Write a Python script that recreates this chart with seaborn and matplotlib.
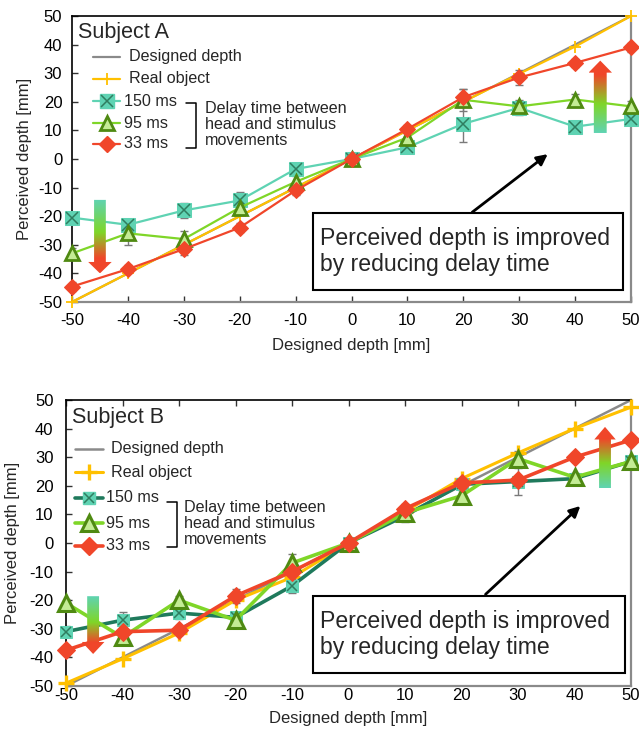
import numpy as np
import pandas as pd
import seaborn as sns
import matplotlib
matplotlib.use("Agg")
import matplotlib.pyplot as plt
from matplotlib.lines import Line2D
from matplotlib.path import Path
from matplotlib.patches import PathPatch, Rectangle
from matplotlib.colors import LinearSegmentedColormap

# ---------------- data ----------------
depth = [-50, -40, -30, -20, -10, 0, 10, 20, 30, 40, 50]
designed = [-50, -40, -30, -20, -10, 0, 10, 20, 30, 40, 50]

A_real = [-50, -40, -30, -20, -10, 0, 10, 20, 29.8, 39.3, 50]
A_150 = [-20.5, -23, -18, -14.5, -3.5, 0, 4.1, 12.3, 17.9, 11.3, 14]
A_150_err = [1.5, 1.5, 2.5, 3, 1.5, 0.5, 1.5, 6.2, 2.6, 1.5, 2]
A_95 = [-33, -26, -28, -17, -8, 0, 7.5, 20.7, 18.4, 20.8, 18.4]
A_95_err = [2, 4, 3, 2, 2, 0.5, 2, 3.8, 2, 2, 2]
A_33 = [-44.6, -38.5, -31.5, -24, -11, 0, 10.5, 21.6, 28.5, 33.6, 39]
A_33_err = [1.5, 1.5, 2, 1.5, 1.5, 0.5, 1.5, 3, 2.6, 1.5, 1.5]

B_real = [-49, -40.5, -31.5, -20, -12, 0, 11, 22.5, 31.5, 40, 47.5]
B_150 = [-31, -27, -24.5, -26, -15, 0, 9.5, 20.5, 21.5, 22.5, 28.5]
B_150_err = [2, 3, 2, 2, 2.5, 0.5, 2, 2, 4.8, 1.5, 2]
B_95 = [-21, -33, -20, -27, -7, 0, 10.5, 16.5, 29.5, 23, 28.5]
B_95_err = [1.5, 1.5, 1.5, 1.5, 3, 0.5, 1.5, 2, 2.5, 1.5, 1.5]
B_33 = [-37.5, -31, -30.5, -18.5, -10, 0, 12, 21, 22, 30, 36]
B_33_err = [2, 1.5, 1.5, 2.5, 2, 0.5, 1.5, 1.5, 1.5, 1.5, 1.5]

ticks = [-50, -40, -30, -20, -10, 0, 10, 20, 30, 40, 50]
labels_leg = ["Designed depth", "Real object", "150 ms", "95 ms", "33 ms"]
delay_text = "Delay time between\nhead and stimulus\nmovements"
box_text = "Perceived depth is improved\nby reducing delay time"

# ---------------- style ----------------
sns.set_style("white")
plt.rcParams["font.family"] = ["Liberation Sans", "DejaVu Sans"]
plt.rcParams["axes.unicode_minus"] = False

GRAY = "#8a8a8a"
GOLD = "#ffc000"
RED = "#f0462a"
GREEN_L = "#7fd628"
GREEN_D = "#4f8a12"
TEAL_L = "#5fd3b3"
TEAL_D = "#1f7a5c"
XCOL = "#2f7d60"

W, H = 639, 742
fig = plt.figure(figsize=(W / 100, H / 100), dpi=100)


def fx(px):
    return px / W


def fy(py):
    return 1 - py / H


styles = {
    "A": dict(lw=1.6, lw_d=1.6, c150=TEAL_L, ms_s=10, ms_t=10, ms_d=8.5,
              ms_p=8, mew_p=1.3, mew_t=2.0, real_lw=1.6),
    "B": dict(lw=2.6, lw_d=1.8, c150=TEAL_D, ms_s=9, ms_t=11, ms_d=9.5,
              ms_p=12, mew_p=2.4, mew_t=2.2, real_lw=2.2),
}


def grad_arrow(ax, xc, y_tail, y_base, y_tip, sw, hw, up):
    verts = [(xc - sw / 2, y_tail), (xc + sw / 2, y_tail), (xc + sw / 2, y_base),
             (xc + hw / 2, y_base), (xc, y_tip), (xc - hw / 2, y_base),
             (xc - sw / 2, y_base), (xc - sw / 2, y_tail)]
    patch = PathPatch(Path(verts), facecolor="none", edgecolor="none",
                      transform=ax.transData)
    ax.add_patch(patch)
    if up:
        cols = [(0, TEAL_L), (0.4, GREEN_L), (0.8, RED), (1, RED)]
    else:
        cols = [(0, RED), (0.2, RED), (0.55, GREEN_L), (1, TEAL_L)]
    cmap = LinearSegmentedColormap.from_list("g", cols)
    grad = np.linspace(0, 1, 256).reshape(-1, 1)
    lo, hi = min(y_tail, y_tip), max(y_tail, y_tip)
    im = ax.imshow(grad, cmap=cmap, extent=[xc - hw / 2, xc + hw / 2, lo, hi],
                   origin="lower", aspect="auto", zorder=7)
    im.set_clip_path(patch)


def draw(ax, key, real, s150, e150, s95, e95, s33, e33):
    st = styles[key]
    sns.lineplot(x=depth, y=designed, ax=ax, color=GRAY, lw=st["lw_d"], zorder=2,
                 clip_on=False)
    for ys, es in ((s150, e150), (s95, e95), (s33, e33)):
        ax.errorbar(depth, ys, yerr=es, fmt="none", ecolor="#7a7a7a",
                    elinewidth=1, capsize=3, capthick=1, zorder=2.5)
    sns.lineplot(x=depth, y=real, ax=ax, color=GOLD, lw=st["real_lw"], marker="+",
                 markersize=st["ms_p"], markeredgewidth=st["mew_p"],
                 markeredgecolor=GOLD, zorder=3, clip_on=False)
    sns.lineplot(x=depth, y=s150, ax=ax, color=st["c150"], lw=st["lw"], marker="s",
                 markersize=st["ms_s"], markerfacecolor=TEAL_L,
                 markeredgecolor=TEAL_L, zorder=4, clip_on=False)
    ax.plot(depth, s150, ls="none", marker="x", ms=st["ms_s"] * 0.85, mew=1.1,
            color=XCOL, zorder=4.1, clip_on=False)
    sns.lineplot(x=depth, y=s95, ax=ax, color=GREEN_L, lw=st["lw"], marker="^",
                 markersize=st["ms_t"], markerfacecolor="#c4ec95",
                 markeredgecolor=GREEN_D, markeredgewidth=st["mew_t"], zorder=5,
                 clip_on=False)
    sns.lineplot(x=depth, y=s33, ax=ax, color=RED, lw=st["lw"], marker="D",
                 markersize=st["ms_d"], markerfacecolor=RED, markeredgecolor=RED,
                 zorder=6, clip_on=False)
    ax.set_xlim(-50, 50)
    ax.set_ylim(-50, 50)
    ax.set_xticks(ticks)
    ax.set_yticks(ticks)
    ax.set_xticklabels([str(t) for t in ticks])
    ax.set_yticklabels([str(t) for t in ticks])
    for s in ("left", "top"):
        ax.spines[s].set_color("black")
        ax.spines[s].set_linewidth(1.2)
    for s in ("right", "bottom"):
        ax.spines[s].set_color(GRAY)
        ax.spines[s].set_linewidth(1.6)
    ax.set_xlabel("Designed depth [mm]", fontsize=12)
    ax.set_ylabel("Perceived depth [mm]", fontsize=12)
    ax.grid(False)


# ---------------- chart A ----------------
axA = fig.add_axes([fx(72), fy(302), (631 - 72) / W, (302 - 16) / H])
draw(axA, "A", A_real, A_150, A_150_err, A_95, A_95_err, A_33, A_33_err)
axA.tick_params(axis="both", direction="in", length=4, width=1, labelsize=12,
                colors="#333333", labelcolor="black")
axA.tick_params(axis="x", bottom=True, top=False, pad=8)
axA.tick_params(axis="y", left=True, right=False, pad=7)
axA.xaxis.set_label_coords(0.5, -0.125)
axA.yaxis.set_label_coords(-0.072, 0.5)
grad_arrow(axA, -45, -14.3, -36, -40, 2.1, 4.2, up=False)
grad_arrow(axA, 44.5, 9.1, 30.2, 34.4, 2.3, 4.2, up=True)
axA.annotate("", xy=(35.5, 2.3), xytext=(21.2, -19.2),
             arrowprops=dict(arrowstyle="-|>", color="black", lw=2,
                             mutation_scale=16), zorder=8)
axA.set_xlim(-50, 50)
axA.set_ylim(-50, 50)

# ---------------- chart B ----------------
axB = fig.add_axes([fx(66), fy(686), (631 - 66) / W, (686 - 400) / H])
draw(axB, "B", B_real, B_150, B_150_err, B_95, B_95_err, B_33, B_33_err)
axB.tick_params(axis="both", direction="in", length=4, width=1, labelsize=12,
                colors="#333333", labelcolor="black")
axB.tick_params(axis="x", bottom=False, top=True, labelbottom=True,
                labeltop=False, pad=1.5)
axB.tick_params(axis="y", left=True, right=False, pad=9)
axB.xaxis.set_label_coords(0.5, -0.088)
axB.yaxis.set_label_coords(-0.082, 0.5)
grad_arrow(axB, -45.2, -18.6, -34.6, -38.8, 2.1, 4.0, up=False)
grad_arrow(axB, 45.4, 19.2, 36.2, 40.6, 2.1, 3.8, up=True)
axB.annotate("", xy=(41.4, 13.6), xytext=(23.9, -18.6),
             arrowprops=dict(arrowstyle="-|>", color="black", lw=2,
                             mutation_scale=16), zorder=8)
axB.set_xlim(-50, 50)
axB.set_ylim(-50, 50)


# ---------------- legends / annotations (figure pixel coords) ----------------
def fline(x0, x1, y, color, lw, **kw):
    fig.add_artist(Line2D([fx(x0), fx(x1)], [fy(y), fy(y)], color=color, lw=lw,
                          transform=fig.transFigure, **kw))


def fmark(x, y, **kw):
    fig.add_artist(Line2D([fx(x)], [fy(y)], ls="none", transform=fig.transFigure, **kw))


def ftext(x, y, s, **kw):
    fig.text(fx(x), fy(y), s, **kw)


LFS = 11.6


def legend(key, x0, x1, xt1, xt2, ys, bx0, bx1, by0, by1, dtx, dty, sx, sy):
    st = styles[key]
    xm = (x0 + x1) / 2
    fline(x0, x1, ys[0], GRAY, st["lw_d"])
    ftext(xt1, ys[0], labels_leg[0], fontsize=LFS, va="center")
    fline(x0, x1, ys[1], GOLD, st["real_lw"])
    fmark(xm, ys[1], marker="+", ms=st["ms_p"], mew=st["mew_p"], color=GOLD)
    ftext(xt1, ys[1], labels_leg[1], fontsize=LFS, va="center")
    fline(x0, x1, ys[2], st["c150"], st["lw"])
    fmark(xm, ys[2], marker="s", ms=st["ms_s"], color=TEAL_L)
    fmark(xm, ys[2], marker="x", ms=st["ms_s"] * 0.85, mew=1.1, color=XCOL)
    ftext(xt2, ys[2], labels_leg[2], fontsize=LFS, va="center")
    fline(x0, x1, ys[3], GREEN_L, st["lw"])
    fmark(xm, ys[3], marker="^", ms=st["ms_t"], mfc="#c4ec95", mec=GREEN_D,
          mew=st["mew_t"])
    ftext(xt2, ys[3], labels_leg[3], fontsize=LFS, va="center")
    fline(x0, x1, ys[4], RED, st["lw"])
    fmark(xm, ys[4], marker="D", ms=st["ms_d"], color=RED)
    ftext(xt2, ys[4], labels_leg[4], fontsize=LFS, va="center")
    fig.add_artist(Line2D([fx(bx0), fx(bx1), fx(bx1), fx(bx0)],
                          [fy(by0), fy(by0), fy(by1), fy(by1)], color="black",
                          lw=1.1, transform=fig.transFigure))
    ftext(dtx, dty, delay_text, fontsize=LFS, va="top", linespacing=1.1)
    ftext(sx, sy, "Subject " + key, fontsize=15.5, va="baseline")


legend("A", 93, 120, 129, 124, [57, 79, 101, 123, 144], 186, 196, 103, 148,
       205, 101, 78, 38)
legend("B", 75, 103, 111, 106, [449, 472, 498, 523, 546], 167, 177, 502, 547,
       184, 500, 72, 423)


def textbox(x0, x1, y0, y1, tx):
    fig.add_artist(Rectangle((fx(x0), fy(y1)), (x1 - x0) / W, (y1 - y0) / H,
                             transform=fig.transFigure, facecolor="white",
                             edgecolor="black", lw=1.5, zorder=9))
    fig.text(fx(tx), fy((y0 + y1) / 2), box_text, fontsize=16.6, va="center",
             ha="left", linespacing=1.15, zorder=10)


textbox(313, 623, 213, 290, 320)
textbox(313, 625, 596, 673, 320)

fig.savefig("out.png", dpi=100)
